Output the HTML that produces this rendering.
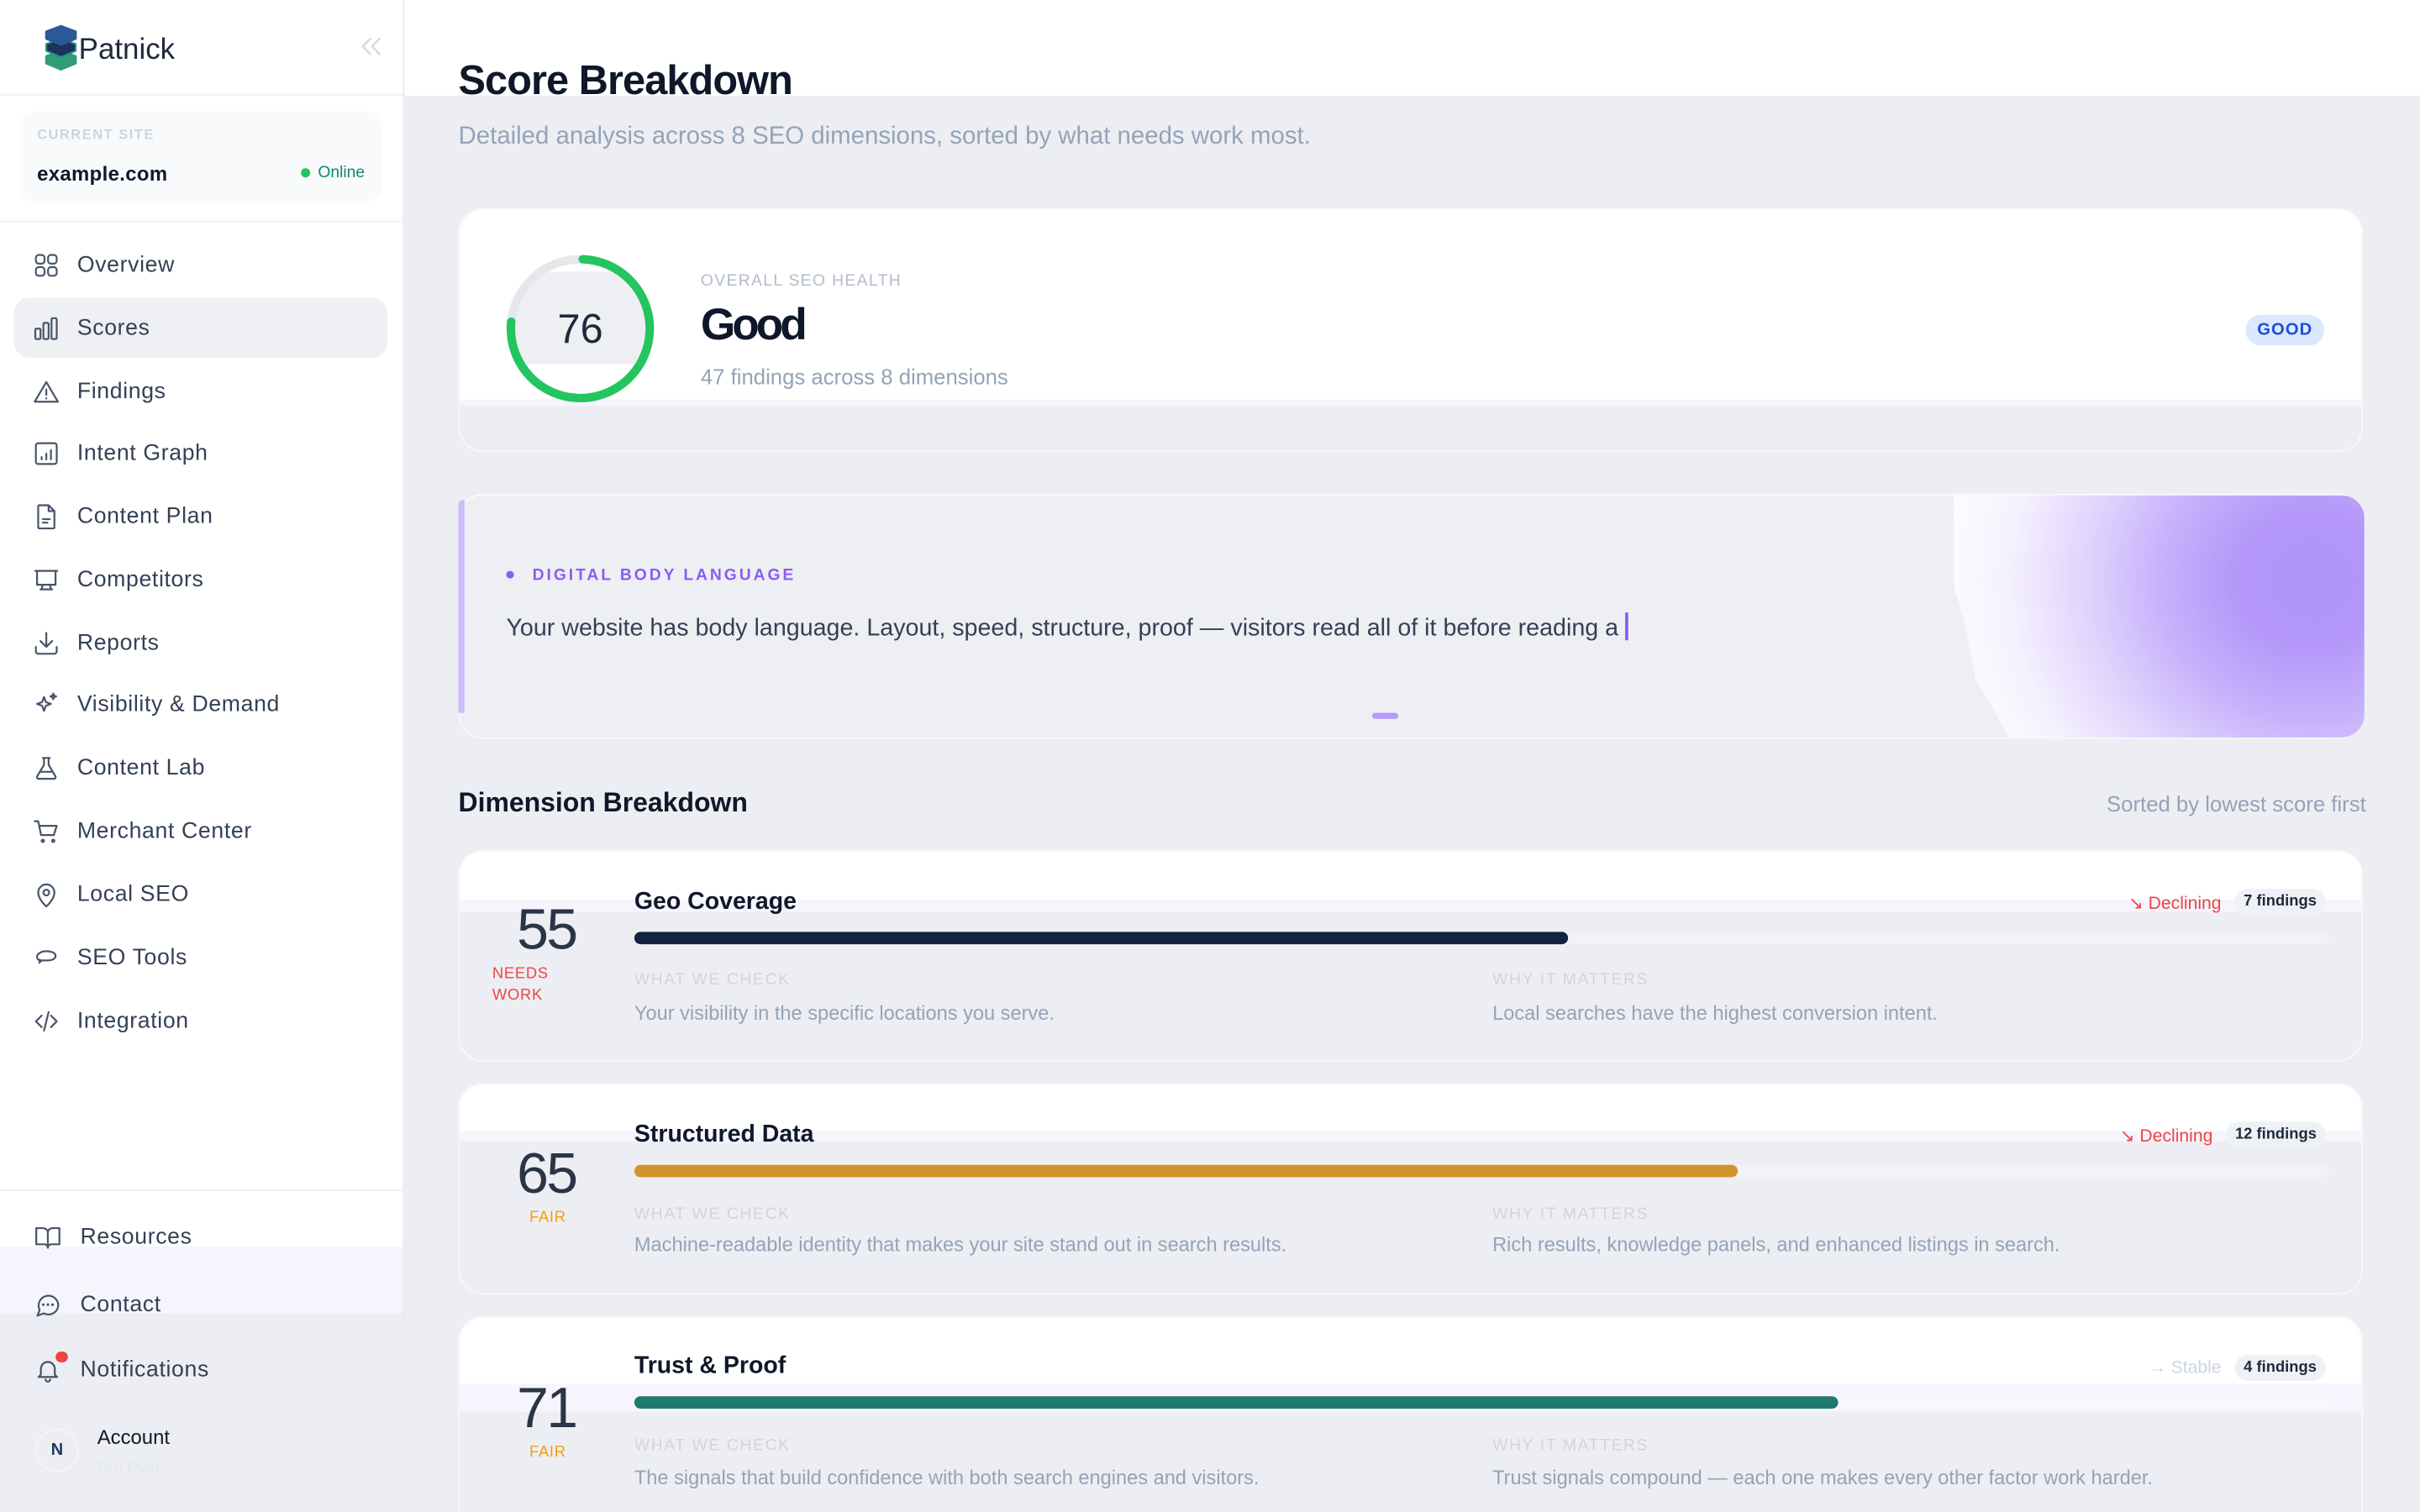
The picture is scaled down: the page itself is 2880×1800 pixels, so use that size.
<!DOCTYPE html>
<html><head><meta charset="utf-8"><style>
html,body{margin:0;padding:0;width:2880px;height:1800px;overflow:hidden;background:#edeef3;}
#root{position:absolute;left:0;top:0;width:1568px;height:980px;transform:scale(1.836735);transform-origin:0 0;background:#edeef3;overflow:hidden;font-family:"Liberation Sans",Arial,sans-serif;}
.a{position:absolute;}
.t{position:absolute;white-space:nowrap;line-height:1;}
.nav{position:absolute;left:0;width:261px;height:20px;}
.nav svg{position:absolute;left:21px;top:1px;width:18px;height:18px;fill:none;stroke:#475569;stroke-width:1.6;stroke-linecap:round;stroke-linejoin:round;}
.nav span{position:absolute;left:50px;top:2.5px;font-size:14.5px;letter-spacing:0.35px;color:#334155;white-space:nowrap;line-height:1;}
.card{position:absolute;left:297px;width:1234px;border:1.5px solid #f7f8fa;border-radius:16px;overflow:hidden;box-sizing:border-box;}
.lbl{position:absolute;white-space:nowrap;line-height:1;font-size:10.5px;letter-spacing:0.9px;color:#d1d5db;}
.desc{position:absolute;white-space:nowrap;line-height:1;font-size:12.85px;color:#94a3b8;}
.title{position:absolute;white-space:nowrap;line-height:1;font-size:15.5px;font-weight:bold;color:#0f172a;left:411px;}
.num{position:absolute;white-space:nowrap;line-height:1;font-size:37px;color:#2a3547;left:304px;width:100px;text-align:center;letter-spacing:-1.5px;font-weight:300;}
.track{position:absolute;left:411px;width:1098px;height:8px;border-radius:4px;background:rgba(255,255,255,0.3);}
.bar{position:absolute;left:411px;height:8px;border-radius:4px;}
.meta{position:absolute;right:61px;height:17px;display:flex;align-items:center;gap:8.5px;}
.meta .tr{font-size:11.5px;white-space:nowrap;}
.meta .bd{height:17px;line-height:17px;padding:0 6px;border-radius:9px;background:#eef2f7;font-size:10px;font-weight:bold;color:#1e293b;white-space:nowrap;}
</style></head><body>
<div id="root">

<!-- Sidebar -->
<div class="a" style="left:0;top:0;width:261px;height:980px;background:linear-gradient(#fff 0 808px,#f6f4fd 808px 851px,#edeef3 851px);"></div>
<div class="a" style="left:261px;top:0;width:1px;height:980px;background:#e8ebf0;"></div>
<div class="a" style="left:0;top:61px;width:261px;height:1px;background:#eef2f6;"></div>
<div class="a" style="left:0;top:143px;width:261px;height:1px;background:#f0f2f5;"></div>
<div class="a" style="left:0;top:771px;width:261px;height:1px;background:#eef2f6;"></div>

<!-- Logo -->
<svg class="a" style="left:29px;top:16px;" width="21" height="30" viewBox="0 0 21 30">
  <path d="M10.5 17 L20 20.5 L20 25 L10.5 29 L1 25 L1 20.5 Z" fill="#2f9d78" stroke="#2f9d78" stroke-width="1.5" stroke-linejoin="round"/>
  <path d="M10.5 9 L20 12.5 L20 17 L10.5 21 L1 17 L1 12.5 Z" fill="#1c325a" stroke="#2a8f86" stroke-width="1.2" stroke-linejoin="round"/>
  <path d="M10.5 1 L20 4.5 L20 9 L10.5 13 L1 9 L1 4.5 Z" fill="#2d5898" stroke="#2d5898" stroke-width="1.5" stroke-linejoin="round"/>
</svg>
<div class="t" style="left:51px;top:23px;font-size:19px;color:#1e293b;">Patnick</div>
<svg class="a" style="left:234px;top:24px;" width="13" height="12" viewBox="0 0 13 12" fill="none" stroke="#d3d9e1" stroke-width="1.3" stroke-linecap="round" stroke-linejoin="round"><path d="M6 1 L1 6 L6 11 M12 1 L7 6 L12 11"/></svg>

<!-- Site card -->
<div class="a" style="left:13px;top:72px;width:234px;height:59px;border-radius:10px;background:#f9fafb;"></div>
<div class="t" style="left:24px;top:83px;font-size:9px;font-weight:bold;letter-spacing:0.8px;color:#cbd5e1;">CURRENT SITE</div>
<div class="t" style="left:24px;top:106px;font-size:13px;font-weight:bold;letter-spacing:0.2px;color:#0f172a;">example.com</div>
<div class="a" style="left:195px;top:109px;width:6px;height:6px;border-radius:50%;background:#22c55e;"></div>
<div class="t" style="left:206px;top:107px;font-size:10.5px;color:#0f8a6a;">Online</div>

<!-- Active -->
<div class="a" style="left:9px;top:193px;width:242px;height:39px;border-radius:10px;background:#eef0f4;"></div>

<div class="nav" style="top:162px;"><svg viewBox="0 0 24 24"><rect x="3" y="3" width="7.5" height="7.5" rx="2.5"/><rect x="13.5" y="3" width="7.5" height="7.5" rx="2.5"/><rect x="3" y="13.5" width="7.5" height="7.5" rx="2.5"/><rect x="13.5" y="13.5" width="7.5" height="7.5" rx="2.5"/></svg><span>Overview</span></div>
<div class="nav" style="top:203px;"><svg viewBox="0 0 24 24"><rect x="2.5" y="12" width="4.5" height="9" rx="1"/><rect x="9.5" y="7" width="4.5" height="14" rx="1"/><rect x="16.5" y="3" width="4.5" height="18" rx="1"/></svg><span>Scores</span></div>
<div class="nav" style="top:244px;"><svg viewBox="0 0 24 24"><path d="M12 3.5 L22 20.5 H2 Z"/><path d="M12 10v4.5M12 17.5v.3"/></svg><span>Findings</span></div>
<div class="nav" style="top:284px;"><svg viewBox="0 0 24 24"><rect x="3" y="3" width="18" height="18" rx="2"/><path d="M8 17v-2M12 17v-5M16 17v-8"/></svg><span>Intent Graph</span></div>
<div class="nav" style="top:325px;"><svg viewBox="0 0 24 24"><path d="M6 2h8l5 5v14a1 1 0 0 1-1 1H6a1 1 0 0 1-1-1V3a1 1 0 0 1 1-1z"/><path d="M14 2v5h5M9 14h6M9 17h4"/></svg><span>Content Plan</span></div>
<div class="nav" style="top:366px;"><svg viewBox="0 0 24 24"><path d="M2.5 4h19M4 4v12h16V4M8 20l.8-4M16 20l-.8-4M7 20h10"/></svg><span>Competitors</span></div>
<div class="nav" style="top:407px;"><svg viewBox="0 0 24 24"><path d="M12 3v12M7 10l5 5 5-5M3 15v4a2 2 0 0 0 2 2h14a2 2 0 0 0 2-2v-4"/></svg><span>Reports</span></div>
<div class="nav" style="top:447px;"><svg viewBox="0 0 24 24"><path d="M10 5l1.6 4.4L16 11l-4.4 1.6L10 17l-1.6-4.4L4 11l4.4-1.6z"/><path d="M18 2l.7 1.8 1.8.7-1.8.7L18 7l-.7-1.8-1.8-.7 1.8-.7z"/></svg><span>Visibility &amp; Demand</span></div>
<div class="nav" style="top:488px;"><svg viewBox="0 0 24 24"><path d="M9 3h6M10 3v6L4 19a1.5 1.5 0 0 0 1.3 2h13.4a1.5 1.5 0 0 0 1.3-2L14 9V3M6.5 15h11"/></svg><span>Content Lab</span></div>
<div class="nav" style="top:529px;"><svg viewBox="0 0 24 24"><path d="M2 3h3l2.5 12h11L21 7H6.2"/><circle cx="9" cy="20" r="1"/><circle cx="18" cy="20" r="1"/></svg><span>Merchant Center</span></div>
<div class="nav" style="top:570px;"><svg viewBox="0 0 24 24"><path d="M12 22s-7-6-7-12a7 7 0 0 1 14 0c0 6-7 12-7 12z"/><circle cx="12" cy="10" r="2.5"/></svg><span>Local SEO</span></div>
<div class="nav" style="top:611px;"><svg viewBox="0 0 24 24"><path d="M4 11c0-3 4-5 8-5s8 1.5 8 4-3 4-7 4H8l-2 2 .5-2.6C5 13.8 4 12.5 4 11z"/></svg><span>SEO Tools</span></div>
<div class="nav" style="top:652px;"><svg viewBox="0 0 24 24"><path d="M8 7l-5 5 5 5M16 7l5 5-5 5M14 4l-4 16"/></svg><span>Integration</span></div>

<div class="nav" style="top:792px;"><svg viewBox="0 0 24 24" style="left:22px;"><path d="M2 4h6a4 4 0 0 1 4 4v13a3 3 0 0 0-3-3H2zM22 4h-6a4 4 0 0 0-4 4v13a3 3 0 0 1 3-3h7z"/></svg><span style="left:52px;">Resources</span></div>
<div class="nav" style="top:836px;"><svg viewBox="0 0 24 24" style="left:22px;"><path d="M21 11.5a8.5 8.5 0 0 1-12.5 7.5L3 21l1.9-5A8.5 8.5 0 1 1 21 11.5z"/><path d="M8 11.5h.1M12 11.5h.1M16 11.5h.1" stroke-width="2.2"/></svg><span style="left:52px;">Contact</span></div>
<div class="nav" style="top:878px;"><svg viewBox="0 0 24 24" style="left:22px;"><path d="M6 16v-5a6 6 0 0 1 12 0v5l2 2H4z M10 20a2 2 0 0 0 4 0"/></svg><span style="left:52px;">Notifications</span></div>
<div class="a" style="left:36px;top:875.5px;width:7.5px;height:7.5px;border-radius:50%;background:#ef4444;"></div>

<div class="a" style="left:23px;top:926px;width:28px;height:28px;border-radius:50%;background:#eceef2;border:1px solid #f5f6f8;box-sizing:border-box;"></div>
<div class="t" style="left:23px;top:935px;width:28px;text-align:center;font-size:11px;font-weight:bold;color:#1e3a5f;">N</div>
<div class="t" style="left:63px;top:925px;font-size:13px;color:#0f172a;">Account</div>
<div class="t" style="left:63px;top:947px;font-size:10.5px;color:#e2e8f0;">Pro Plan</div>

<!-- Main top band -->
<div class="a" style="left:262px;top:0;width:1306px;height:62px;background:#fff;"></div>
<div class="t" style="left:297px;top:38.6px;font-size:26.5px;font-weight:bold;letter-spacing:-0.5px;color:#0f172a;">Score Breakdown</div>
<div class="t" style="left:297px;top:80.5px;font-size:16px;color:#94a3b8;">Detailed analysis across 8 SEO dimensions, sorted by what needs work most.</div>

<!-- Overall card -->
<div class="card" style="top:135px;height:158px;background:linear-gradient(#fff 0 123px,#f6f4fd 123px 127px,#edeef3 127px);"></div>
<svg class="a" style="left:325.5px;top:163px;" width="100" height="100" viewBox="0 0 100 100">
  <defs><clipPath id="ic"><circle cx="50" cy="50" r="42.5"/></clipPath></defs>
  <rect x="0" y="13" width="100" height="60" fill="#eeeff3" clip-path="url(#ic)"/>
  <circle cx="50" cy="50" r="45" fill="none" stroke="#e5e7eb" stroke-width="5.5"/>
  <circle cx="50" cy="50" r="45" fill="none" stroke="#22c55e" stroke-width="5.5" stroke-linecap="round" stroke-dasharray="214.9 400" transform="rotate(-88 50 50)"/>
</svg>
<div class="t" style="left:326px;top:200px;width:100px;text-align:center;font-size:26.5px;font-weight:300;color:#1e293b;">76</div>
<div class="t" style="left:454px;top:177px;font-size:10.5px;letter-spacing:0.75px;color:#b3bcc9;">OVERALL SEO HEALTH</div>
<div class="t" style="left:454px;top:197px;font-size:29px;font-weight:bold;letter-spacing:-2.2px;color:#0f172a;">Good</div>
<div class="t" style="left:454px;top:237px;font-size:14px;color:#94a3b8;">47 findings across 8 dimensions</div>
<div class="a" style="left:1455px;top:204px;width:51px;height:20px;border-radius:10px;background:#dbe8fe;"></div>
<div class="t" style="left:1455px;top:209px;width:51px;text-align:center;font-size:11px;font-weight:bold;letter-spacing:0.6px;color:#1d4ed8;">GOOD</div>

<!-- Digital body language card -->
<div class="card" style="top:320px;height:159px;background:#eeeff3;border-top-color:#fbfbfd;"></div>
<div class="a" style="left:1266px;top:321px;width:266px;height:157px;border-radius:0 15px 15px 0;clip-path:polygon(0 0,100% 0,100% 100%,36px 100%,14px 119px,6px 79px,0 59px);background:radial-gradient(ellipse 240px 220px at 232px 55px,#b093f8 0%,#b497f9 20%,#c6b0fb 40%,#e1d5fd 62%,#f5f1fe 82%,#fdfcff 100%);"></div>
<div class="a" style="left:297px;top:324px;width:4px;height:138px;border-radius:3px 0 0 0;background:#cdbdfc;"></div>
<div class="a" style="left:328px;top:369.5px;width:5px;height:5px;border-radius:50%;background:#8b5cf6;"></div>
<div class="t" style="left:345px;top:367.5px;font-size:10.5px;font-weight:bold;letter-spacing:1.6px;color:#8b5cf6;">DIGITAL BODY LANGUAGE</div>
<div class="t" style="left:328px;top:399.5px;font-size:15.6px;color:#334155;">Your website has body language. Layout, speed, structure, proof — visitors read all of it before reading a</div>
<div class="a" style="left:1053px;top:397px;width:2px;height:18px;background:#8b5cf6;"></div>
<div class="a" style="left:889px;top:461.5px;width:17px;height:4px;border-radius:2px;background:#b79cf8;"></div>

<!-- Dimension header -->
<div class="t" style="left:297px;top:511.5px;font-size:17.4px;font-weight:bold;color:#0f172a;">Dimension Breakdown</div>
<div class="t" style="right:35px;top:513.5px;font-size:14px;color:#94a3b8;">Sorted by lowest score first</div>

<!-- Card 1 -->
<div class="card" style="top:551px;height:137px;background:linear-gradient(#fff 0 31px,#f6f4fd 31px 39px,#edeef3 39px);"></div>
<div class="num" style="top:584px;">55</div>
<div class="t" style="left:319px;top:627px;font-size:10px;letter-spacing:0.4px;color:#ef4444;">NEEDS</div>
<div class="t" style="left:319px;top:641px;font-size:10px;letter-spacing:0.4px;color:#ef4444;">WORK</div>
<div class="title" style="top:577px;">Geo Coverage</div>
<div class="track" style="top:603.5px;"></div>
<div class="bar" style="top:603.5px;width:605px;background:#10233f;"></div>
<div class="lbl" style="left:411px;top:630px;">WHAT WE CHECK</div>
<div class="desc" style="left:411px;top:650.5px;">Your visibility in the specific locations you serve.</div>
<div class="lbl" style="left:967px;top:630px;">WHY IT MATTERS</div>
<div class="desc" style="left:967px;top:650.5px;">Local searches have the highest conversion intent.</div>
<div class="meta" style="top:576px;"><span class="tr" style="color:#ef4444;">↘ Declining</span><span class="bd">7 findings</span></div>

<!-- Card 2 -->
<div class="card" style="top:702px;height:137px;background:linear-gradient(#fff 0 30px,#f6f4fd 30px 37px,#edeef3 37px);"></div>
<div class="num" style="top:742px;">65</div>
<div class="t" style="left:343px;top:785px;font-size:10px;letter-spacing:0.4px;color:#f59e0b;">FAIR</div>
<div class="title" style="top:728px;">Structured Data</div>
<div class="track" style="top:754.5px;"></div>
<div class="bar" style="top:754.5px;width:715px;background:#d4922c;"></div>
<div class="lbl" style="left:411px;top:782px;">WHAT WE CHECK</div>
<div class="desc" style="left:411px;top:800.5px;">Machine-readable identity that makes your site stand out in search results.</div>
<div class="lbl" style="left:967px;top:782px;">WHY IT MATTERS</div>
<div class="desc" style="left:967px;top:800.5px;">Rich results, knowledge panels, and enhanced listings in search.</div>
<div class="meta" style="top:727px;"><span class="tr" style="color:#ef4444;">↘ Declining</span><span class="bd">12 findings</span></div>

<!-- Card 3 -->
<div class="card" style="top:853px;height:160px;background:linear-gradient(#fff 0 43px,#f6f4fd 43px 61px,#edeef3 61px);"></div>
<div class="num" style="top:894px;">71</div>
<div class="t" style="left:343px;top:937px;font-size:10px;letter-spacing:0.4px;color:#f59e0b;">FAIR</div>
<div class="title" style="top:878px;">Trust &amp; Proof</div>
<div class="track" style="top:905px;"></div>
<div class="bar" style="top:905px;width:780px;background:#1f7a6e;"></div>
<div class="lbl" style="left:411px;top:932px;">WHAT WE CHECK</div>
<div class="desc" style="left:411px;top:951.5px;">The signals that build confidence with both search engines and visitors.</div>
<div class="lbl" style="left:967px;top:932px;">WHY IT MATTERS</div>
<div class="desc" style="left:967px;top:951.5px;">Trust signals compound — each one makes every other factor work harder.</div>
<div class="meta" style="top:878px;"><span class="tr" style="color:#cbd5e1;">→ Stable</span><span class="bd">4 findings</span></div>

</div>
</body></html>
